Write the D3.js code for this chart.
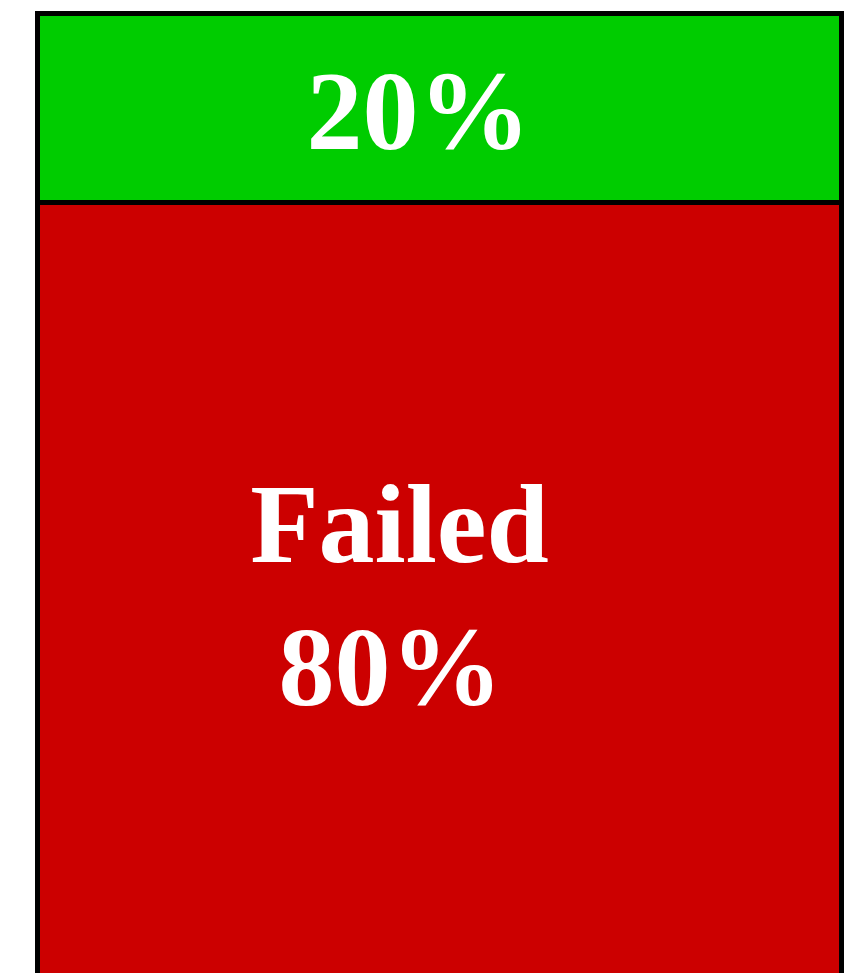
<!DOCTYPE html>
<html>
<head>
<meta charset="utf-8">
<script src="https://cdn.jsdelivr.net/npm/d3@7"></script>
<style>
  body { margin: 0; background: #fff; }
  svg { display: block; }
  .seg-label { font-family: "Liberation Serif", "Times New Roman", serif; font-weight: bold; fill: #fff; }
</style>
</head>
<body>
<svg id="chart"></svg>
<script>
// data
const categories = ['Failed', 'Passed'];
const values = [80, 20];
const colors = ['#cc0000', '#00cc00'];
const labels = [['Failed', '80%'], ['20%']];

const width = 865, height = 973;
const barLeft = 37.5, barRight = 841.5, barTop = 13.5;

const svg = d3.select('#chart').attr('width', width).attr('height', height);

// stack the segments
let acc = 0;
const stacked = categories.map((c, i) => {
    const d = { key: c, y0: acc, y1: acc + values[i], color: colors[i], label: labels[i] };
    acc += values[i];
    return d;
});

// the bottom of the bar runs off the page, the scale is bent at the 80% split
const yScale = d3.scaleLinear().domain([0, 80, 100]).range([1120, 202.5, barTop]);
const xScale = d3.scaleBand().domain(['bar']).range([barLeft, barRight]).padding(0);

const g = svg.append('g');

g.selectAll('rect.seg').data(stacked).enter().append('rect')
    .attr('class', 'seg')
    .attr('x', xScale('bar'))
    .attr('width', xScale.bandwidth())
    .attr('y', d => yScale(d.y1))
    .attr('height', d => yScale(d.y0) - yScale(d.y1))
    .attr('fill', d => d.color)
    .attr('stroke', '#000')
    .attr('stroke-width', 5);

// label offsets (layout only)
const labelPos = {
    Failed: [{ dx: -40, y: 562 }, { dx: -49, y: 705 }],
    Passed: [{ dx: -21, y: 149 }]
};
const cx = xScale('bar') + xScale.bandwidth() / 2;

stacked.forEach(d => {
    d.label.forEach((t, j) => {
        const p = labelPos[d.key][j];
        g.append('text')
            .attr('class', 'seg-label')
            .attr('x', cx + p.dx)
            .attr('y', p.y)
            .attr('text-anchor', 'middle')
            .style('font-size', '112px')
            .text(t);
    });
});
</script>
</body>
</html>
